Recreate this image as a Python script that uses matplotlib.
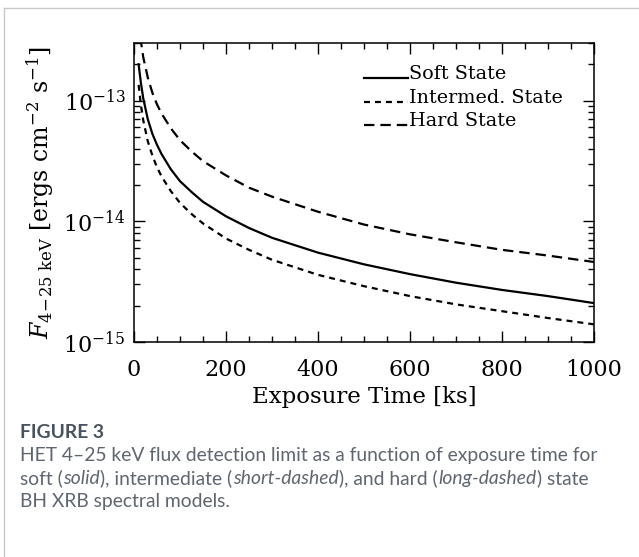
import numpy as np
import matplotlib
matplotlib.use("Agg")
import matplotlib.pyplot as plt
from matplotlib.lines import Line2D
from matplotlib.legend_handler import HandlerLine2D
from matplotlib.ticker import FixedLocator, LogLocator, MultipleLocator, NullFormatter

# exposure time [ks] and 4-25 keV flux limits [erg cm^-2 s^-1]
t_ks = [10, 15, 20, 30, 40, 50, 60, 80, 100, 125, 150, 200, 250, 300,
        400, 500, 600, 700, 800, 900, 1000]
soft_flux = [2.0e-13, 1.4e-13, 1.05e-13, 7.0e-14, 5.3e-14, 4.3e-14, 3.6e-14,
             2.7e-14, 2.15e-14, 1.75e-14, 1.45e-14, 1.1e-14, 8.8e-15, 7.3e-15,
             5.5e-15, 4.4e-15, 3.65e-15, 3.1e-15, 2.7e-15, 2.4e-15, 2.1e-15]
inter_flux = [1.35e-13, 9.2e-14, 6.9e-14, 4.6e-14, 3.5e-14, 2.8e-14, 2.35e-14,
              1.78e-14, 1.42e-14, 1.15e-14, 9.6e-15, 7.2e-15, 5.8e-15, 4.8e-15,
              3.6e-15, 2.9e-15, 2.4e-15, 2.05e-15, 1.8e-15, 1.58e-15, 1.4e-15]
hard_flux = [4.6e-13, 3.1e-13, 2.3e-13, 1.55e-13, 1.16e-13, 9.3e-14, 7.8e-14,
             5.9e-14, 4.7e-14, 3.8e-14, 3.15e-14, 2.4e-14, 1.9e-14, 1.6e-14,
             1.2e-14, 9.4e-15, 7.8e-15, 6.7e-15, 5.8e-15, 5.2e-15, 4.6e-15]
labels = ["Soft State", "Intermed. State", "Hard State"]
y_major = [1e-15, 1e-14, 1e-13]

plt.rcParams['font.family'] = 'DejaVu Serif'
plt.rcParams['mathtext.fontset'] = 'dejavuserif'
plt.rcParams['lines.scale_dashes'] = False


class BaselineHandler(HandlerLine2D):
    # legend sample drawn on the text baseline, IDL style
    def create_artists(self, legend, orig_handle, xdescent, ydescent,
                       width, height, fontsize, trans):
        arts = super().create_artists(legend, orig_handle, xdescent, ydescent,
                                      width, height, fontsize, trans)
        for a in arts:
            a.set_ydata(np.full(len(a.get_xdata()), 0.05 * fontsize))
        return arts


fig = plt.figure(figsize=(6.39, 5.57), dpi=100)
ax = fig.add_axes([0.2097, 0.386, 0.7199, 0.5368])

ax.plot(t_ks, soft_flux, color='k', lw=1.6, label=labels[0])
ax.plot(t_ks, inter_flux, color='k', lw=1.6, dashes=(4.3, 3.6), label=labels[1])
ax.plot(t_ks, hard_flux, color='k', lw=1.6, dashes=(7.5, 4.3), label=labels[2])

ax.set_yscale('log')
ax.set_xlim(0, 1000)
ax.set_ylim(1e-15, 3e-13)
ax.xaxis.set_major_locator(MultipleLocator(200))
ax.xaxis.set_minor_locator(MultipleLocator(50))
ax.yaxis.set_major_locator(FixedLocator(y_major))
ax.yaxis.set_minor_locator(LogLocator(10, subs=np.arange(2, 10)))
ax.yaxis.set_minor_formatter(NullFormatter())
ax.tick_params(which='both', direction='in', top=True, right=True, width=1.0)
ax.tick_params(which='major', length=8, labelsize=16)
ax.tick_params(which='minor', length=4)
ax.tick_params(axis='x', pad=12)
ax.tick_params(axis='y', pad=6)
for sp in ax.spines.values():
    sp.set_linewidth(1.1)

ax.set_xlabel('Exposure Time [ks]', fontsize=16.5, labelpad=4)
ax.set_ylabel(r'$F_{\mathrm{4\!-\!25\ keV}}$ [ergs cm$^{-2}$ s$^{-1}$]', fontsize=17, labelpad=5)

ax.legend(loc='upper left', bbox_to_anchor=(0.50, 0.925), frameon=False,
          fontsize=13.8, handlelength=2.3, handletextpad=0.05, labelspacing=0.28,
          borderpad=0, borderaxespad=0, handler_map={Line2D: BaselineHandler()})

# panel border (left and top edges visible)
fig.add_artist(Line2D([4 / 639, 4 / 639], [0, 1 - 8 / 557], transform=fig.transFigure,
                      color='#c8c8c8', lw=1.0))
fig.add_artist(Line2D([4 / 639, 1], [1 - 8 / 557, 1 - 8 / 557], transform=fig.transFigure,
                      color='#c8c8c8', lw=1.0))

# caption
cap_color = '#5f6670'
fig.text(20 / 639, 1 - 438 / 557, 'FIGURE 3', family='Lato', weight='bold',
         fontsize=13.9, color='#48535e', va='baseline')

renderer = fig.canvas.get_renderer()


def rich_line(x, y, parts):
    for s, style in parts:
        tx = fig.text(x, y, s, family='Lato', style=style, fontsize=13.9,
                      color=cap_color, va='baseline')
        x += tx.get_window_extent(renderer=renderer).width / fig.bbox.width + 0.5 / 639


rich_line(20 / 639, 1 - 461 / 557,
          [("HET 4\u201325 keV flux detection limit as a function of exposure time for", 'normal')])
rich_line(20 / 639, 1 - 484 / 557,
          [("soft (", 'normal'), ("solid", 'italic'), ("), intermediate (", 'normal'),
           ("short-dashed", 'italic'), ("), and hard (", 'normal'),
           ("long-dashed", 'italic'), (") state", 'normal')])
rich_line(20 / 639, 1 - 507 / 557, [("BH XRB spectral models.", 'normal')])

fig.savefig('out.png', dpi=100)
